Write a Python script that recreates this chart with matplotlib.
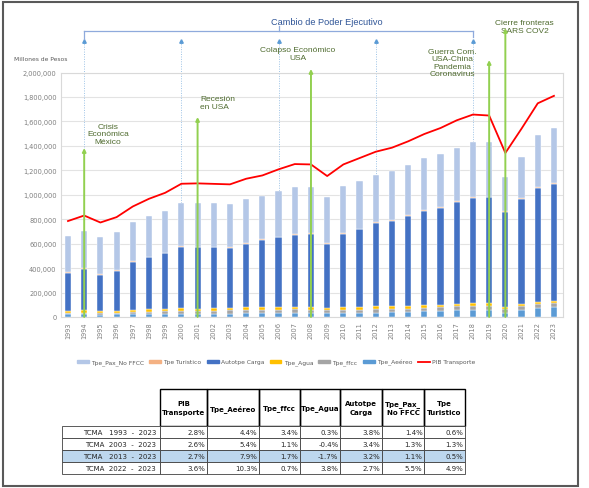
import numpy as np
import matplotlib.pyplot as plt
from matplotlib.patches import Rectangle, Patch
from matplotlib.lines import Line2D
from matplotlib.ticker import FuncFormatter

# valores en miles de millones de pesos
years = list(range(1993, 2024))
aereo = [22, 23, 20, 22, 24, 25, 26, 28, 26, 26, 28, 30, 31, 32, 33, 32, 29, 31, 32, 34,
         37, 40, 45, 50, 55, 59, 60, 36, 56, 72.5, 80]
ffcc = [12, 12, 11, 13, 15, 17, 19, 21, 22, 23, 25.7, 27, 28, 28, 29, 28, 25, 27, 28, 28,
        27, 28, 29, 30, 31, 32, 32, 30, 31, 31.8, 32]
agua = [18.3, 19, 17, 18, 19, 20, 21, 22, 21, 21, 21.7, 22, 22, 23, 23, 23, 22, 23, 23, 24,
        23.7, 23, 22, 22, 21, 21, 20, 19, 19, 19.3, 20]
carga = [309, 339, 299, 324, 393, 427, 456, 505, 502, 501, 491, 522, 548, 570, 587, 597, 522,
         597, 633, 682, 699, 737, 770, 789, 833, 863, 866, 776, 861, 931, 956]
turistico = [5.5, 5.5, 5, 5, 5, 5, 5, 5, 5, 5, 5.1, 5, 5, 5, 5, 5, 5, 5.5, 5.5, 6,
             6.3, 6, 6, 6, 6, 6, 6, 4, 5, 6.3, 6.6]
pax = [294, 308, 301, 315, 320, 331, 336, 353, 358, 353, 353, 361, 352, 372, 386, 381, 378,
       384, 390, 390, 404, 409, 426, 436, 439, 451, 448, 283, 339, 428, 451]
pib = [785, 830, 773, 817, 904, 967, 1016, 1090, 1093, 1089, 1085, 1131, 1158, 1208, 1251,
       1248, 1153, 1248, 1300, 1352, 1385, 1437, 1497, 1546, 1609, 1656, 1648, 1342, 1541,
       1748, 1809]

series_names = ["Tpe_Aeéreo", "Tpe_ffcc", "Tpe_Agua", "Autotpe Carga", "Tpe Turistico", "Tpe_Pax_No FFCC"]
series_vals = [aereo, ffcc, agua, carga, turistico, pax]
series_cols = ["#5B9BD5", "#A5A5A5", "#FFC000", "#4472C4", "#F4B183", "#B4C7E7"]

term_years = [1994, 2000, 2006, 2012, 2018]
events = [("Crisis\nEconómica\nMéxico", 1994, 1382),
          ("Recesión\nen USA", 2001, 1636),
          ("Colapso Económico\nUSA", 2008, 2029),
          ("Guerra Com.\nUSA-China\nPandemia\nCoronavirus", 2019, 2102),
          ("Cierre fronteras\nSARS COV2", 2020, 2364)]

table_cols = ["PIB\nTransporte", "Tpe_Aeéreo", "Tpe_ffcc", "Tpe_Agua", "Autotpe\nCarga",
              "Tpe_Pax_\nNo FFCC", "Tpe\nTuristico"]
table_rows = ["TCMA   1993  -  2023", "TCMA  2003  -  2023", "TCMA   2013  -  2023", "TCMA  2022  -  2023"]
table_vals = [["2.8%", "4.4%", "3.4%", "0.3%", "3.8%", "1.4%", "0.6%"],
              ["2.6%", "5.4%", "1.1%", "-0.4%", "3.4%", "1.3%", "1.3%"],
              ["2.7%", "7.9%", "1.7%", "-1.7%", "3.2%", "1.1%", "0.5%"],
              ["3.6%", "10.3%", "0.7%", "3.8%", "2.7%", "5.5%", "4.9%"]]

W, H = 589, 489
fig = plt.figure(figsize=(W / 100, H / 100), dpi=100)
fig.patch.set_facecolor("white")

ax = fig.add_axes([60.7 / W, (H - 318) / H, 502 / W, 244.5 / H])
x = np.arange(len(years))
bottom = np.zeros(len(years))
for name, vals, col in zip(series_names, series_vals, series_cols):
    v = np.array(vals) * 1000
    ax.bar(x, v, 0.38, bottom=bottom, color=col, edgecolor="white", linewidth=0.3, zorder=3)
    bottom += v
ax.plot(x, np.array(pib) * 1000, color="#FF0000", lw=1.3, zorder=4)

ax.set_xlim(-0.45, 30.54)
ax.set_ylim(0, 2000000)
ax.set_yticks(np.arange(0, 2000001, 200000))
ax.yaxis.set_major_formatter(FuncFormatter(lambda v, p: f"{int(v):,}"))
ax.set_xticks(x)
ax.set_xticklabels([str(y) for y in years], rotation=90)
ax.tick_params(length=0, labelsize=4.8, colors="#7F7F7F", pad=3)
ax.grid(axis="y", color="#E3E3E3", lw=0.8, zorder=0)
for s in ax.spines.values():
    s.set_color("#D9D9D9")
    s.set_linewidth(0.8)
ax.text(-0.093, 1.057, "Millones de Pesos", transform=ax.transAxes, fontsize=4.3,
        color="#595959", ha="left", va="center")

def yi(yr):
    return years.index(yr)

# periodos sexenales
term_x = [yi(t) for t in term_years]
ax.vlines(term_x, 0, 2258000, colors="#9DC3E6", linestyles=(0, (1, 1.5)), lw=0.7,
          clip_on=False, zorder=2)
ax.plot(term_x, [2258000] * len(term_x), "^", color="#5B9BD5", ms=2.5, clip_on=False)
bc = "#8FAADC"
ax.plot([term_x[0], term_x[-1]], [2339000, 2339000], color=bc, lw=0.9, clip_on=False)
ax.plot([term_x[0], term_x[0]], [2339000, 2274000], color=bc, lw=0.9, clip_on=False)
ax.plot([term_x[-1], term_x[-1]], [2339000, 2290000], color=bc, lw=0.9, clip_on=False)
mid = (term_x[0] + term_x[-1]) / 2
ax.plot([mid, mid], [2339000, 2380000], color=bc, lw=0.9, clip_on=False)
ax.text(mid + 3.0, 2421000, "Cambio de Poder Ejecutivo", fontsize=6.6, color="#2F5597",
        ha="center", va="center", family="Liberation Sans")

# eventos
green = "#4F6B2F"
for label, yr, top in events:
    ax.annotate("", xy=(yi(yr), top * 1000), xytext=(yi(yr), 0),
                arrowprops=dict(arrowstyle="-|>", color="#92D050", lw=1.4,
                                mutation_scale=5, shrinkA=0, shrinkB=0),
                annotation_clip=False, zorder=5)
txt_pos = {1994: (2.47, 1497000, "center"), 2001: (8.15, 1755000, "left"),
           2008: (14.2, 2155000, "center"), 2019: (23.7, 2082000, "center"),
           2020: (28.2, 2376000, "center")}
for label, yr, top in events:
    tx, ty, ha = txt_pos[yr]
    ax.text(tx, ty, label, fontsize=6, color=green, ha=ha, va="center", multialignment="center"
            if ha == "center" else "left", linespacing=1.05, family="Liberation Sans")

# leyenda
handles = [Patch(color=c) for c in series_cols[::-1]] + [Line2D([], [], color="#FF0000", lw=1.3)]
labels = series_names[::-1] + ["PIB Transporte"]
fig.legend(handles, labels, loc="center", bbox_to_anchor=(276 / W, 1 - 363 / H), ncol=7,
           frameon=False, fontsize=4.3, handlelength=2.0, handleheight=0.35, columnspacing=0.9,
           handletextpad=0.35, labelcolor="#595959")

# tabla y marco en coordenadas de pixel
ov = fig.add_axes([0, 0, 1, 1], zorder=10)
ov.set_xlim(0, W)
ov.set_ylim(H, 0)
ov.axis("off")
ov.patch.set_alpha(0)
ov.add_patch(Rectangle((3, 3), 575, 484, fill=False, edgecolor="#595959", lw=1.5))

xs = [160, 207, 259, 300, 340, 382, 424, 465]
ry = [427.3, 439.2, 451.1, 463, 475]
for j, col in enumerate(table_cols):
    ov.add_patch(Rectangle((xs[j], 390), xs[j + 1] - xs[j], ry[0] - 390, fill=False,
                           edgecolor="black", lw=1.0))
    ov.text((xs[j] + xs[j + 1]) / 2, (390 + ry[0]) / 2, col, ha="center", va="center",
            fontsize=5, fontweight="bold", linespacing=1.5, color="black")
for i, row in enumerate(table_rows):
    fc = "#BDD7EE" if i == 2 else "white"
    ov.add_patch(Rectangle((62, ry[i]), xs[0] - 62, ry[i + 1] - ry[i], facecolor=fc,
                           edgecolor="#404040", lw=0.6))
    ov.text(xs[0] - 4, (ry[i] + ry[i + 1]) / 2, row, ha="right", va="center", fontsize=5,
            color="#262626")
    for j, val in enumerate(table_vals[i]):
        ov.add_patch(Rectangle((xs[j], ry[i]), xs[j + 1] - xs[j], ry[i + 1] - ry[i],
                               facecolor=fc, edgecolor="#404040", lw=0.6))
        ov.text(xs[j + 1] - 1.5, (ry[i] + ry[i + 1]) / 2, val, ha="right", va="center",
                fontsize=5, color="#262626")

fig.savefig("out.png", dpi=100)
